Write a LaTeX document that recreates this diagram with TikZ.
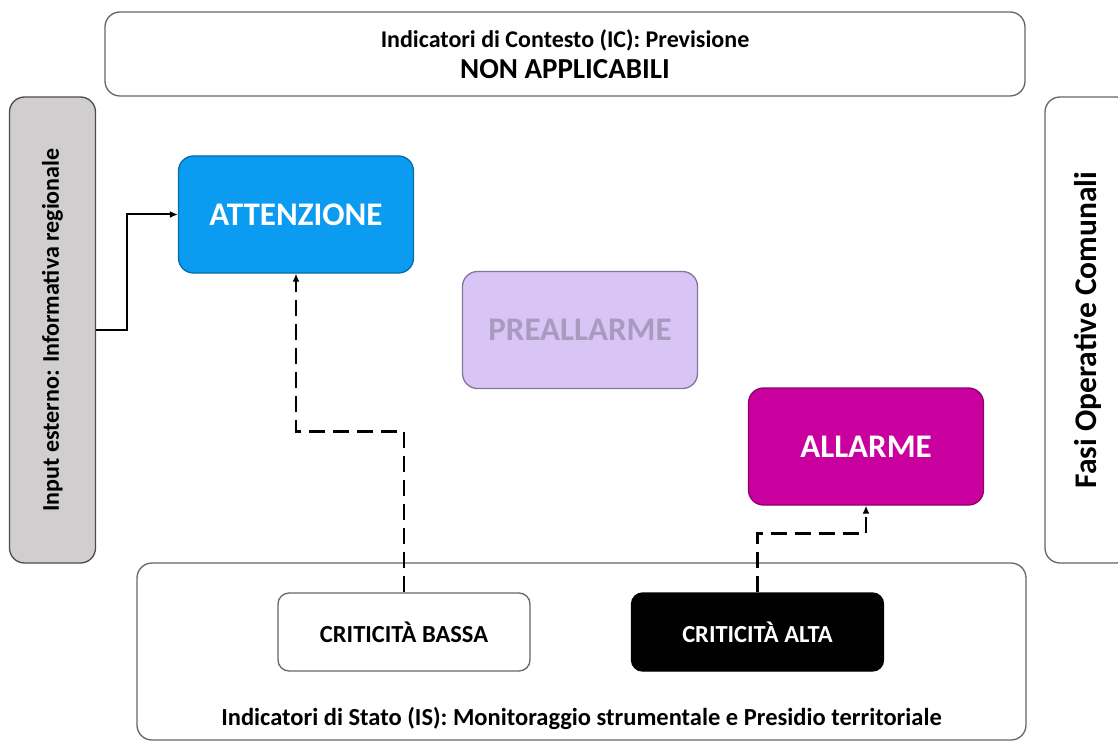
\documentclass[tikz,border=0pt]{standalone}
\usepackage{fontspec}
\setmainfont{Carlito}
\usetikzlibrary{arrows.meta}
\tikzset{>={Latex[width=7pt,length=8pt]}}

\definecolor{blu}{HTML}{0B9BF0}
\definecolor{lilla}{HTML}{D8C5F6}
\definecolor{magenta}{HTML}{CA009E}
\definecolor{grigio}{HTML}{D0CECE}

\tikzset{
  cornice/.style={draw=black!60, line width=1.3pt, rounded corners=15pt},
  fase/.style={draw, line width=1.3pt, rounded corners=15pt,
    minimum width=235pt, minimum height=117pt, text=white,
    font=\fontsize{33}{36}\selectfont\bfseries},
  crit/.style={draw=black!60, line width=1.3pt, rounded corners=11pt,
    minimum width=252pt, minimum height=78pt,
    font=\fontsize{24.5}{28}\selectfont\bfseries},
  freccia/.style={->, line width=2pt},
  tratteggio/.style={->, line width=2.4pt, dash pattern=on 16pt off 8pt}
}

\begin{document}
\begin{tikzpicture}[x=1pt, y=-1pt]

  \useasboundingbox (0,0) rectangle (1118,743);

  %% indicatori di contesto
  \node[cornice, minimum width=920pt, minimum height=84pt, align=center] (contesto) at (565,54)
    {\fontsize{24}{28}\selectfont\bfseries Indicatori di Contesto (IC): Previsione\\[7pt]
     \fontsize{29}{33}\selectfont\bfseries NON APPLICABILI};

  %% input esterno
  \node[cornice, draw=black!70, fill=grigio, rotate=90, minimum width=466pt, minimum height=86pt,
    font=\fontsize{24}{28}\selectfont\bfseries] (input) at (52.5,330) {Input esterno: Informativa regionale};

  %% fasi operative
  \node[cornice, rotate=90, minimum width=466pt, minimum height=86pt,
    font=\fontsize{31.5}{36}\selectfont\bfseries] (fasi) at (1088,330) {Fasi Operative Comunali};

  \node[fase, fill=blu, draw=blu!70!black] (attenzione) at (296,214.5) {ATTENZIONE};
  \node[fase, fill=lilla, draw=lilla!60!black, text=black!22!lilla] (preallarme) at (580,330) {PREALLARME};
  \node[fase, fill=magenta, draw=magenta!70!black] (allarme) at (866,446.5) {ALLARME};

  %% indicatori di stato
  \node[cornice, minimum width=889pt, minimum height=177pt] (stato) at (581.5,651.5) {};
  \node[font=\fontsize{24.5}{28}\selectfont\bfseries] (statotxt) at (581.5,718)
    {Indicatori di Stato (IS): Monitoraggio strumentale e Presidio territoriale};

  \node[crit, fill=white] (bassa) at (404,632) {CRITICITÀ BASSA};
  \node[crit, fill=black, draw=black, text=white] (alta) at (757.5,632) {CRITICITÀ ALTA};

  \draw[freccia] (input.south) -- ++(31,0) |- (attenzione.west);
  \draw[tratteggio] (bassa.north) -- ++(0,-161) -| (attenzione.south);
  \draw[tratteggio] (alta.north) -- ++(0,-59) -| (allarme.south);

\end{tikzpicture}
\end{document}
